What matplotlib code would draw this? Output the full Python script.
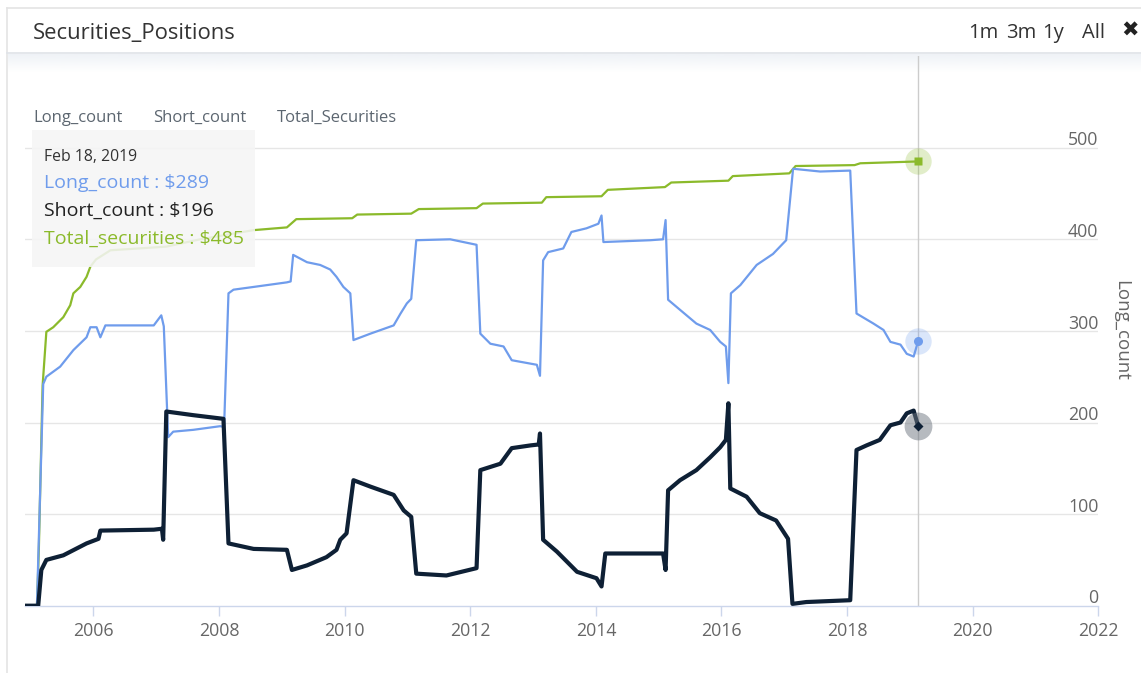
import matplotlib
matplotlib.use("Agg")
import matplotlib.pyplot as plt
import numpy as np
from matplotlib.patches import Rectangle
from matplotlib.lines import Line2D
from matplotlib.colors import to_rgb

plt.rcParams['font.family'] = ['Open Sans', 'DejaVu Sans']

# ---- data (decimal years) ----
total_dates = [2004.935, 2005.10, 2005.13, 2005.19, 2005.25, 2005.36, 2005.52, 2005.63,
               2005.68, 2005.79, 2005.89, 2005.95, 2006.04, 2006.27, 2007.16, 2007.70,
               2008.55, 2009.08, 2009.23, 2010.12, 2010.20, 2011.06, 2011.18, 2012.10,
               2012.20, 2013.14, 2013.21, 2014.09, 2014.19, 2015.10, 2015.20, 2016.11,
               2016.18, 2017.08, 2017.18, 2018.12, 2018.21, 2019.132]
total_values = [0, 0, 60, 240, 299, 304, 315, 328,
                341, 348, 359, 370, 378, 388, 392, 400,
                410, 413, 422, 423, 427, 428, 433, 434,
                439, 440, 446, 447, 454, 457, 462, 464,
                469, 472, 480, 481, 483, 485]

long_dates = [2004.935, 2005.10, 2005.20, 2005.25, 2005.47, 2005.68, 2005.89, 2005.95,
              2006.05, 2006.11, 2006.19, 2006.96, 2007.08, 2007.12, 2007.19, 2007.27,
              2007.59, 2008.02, 2008.08, 2008.15, 2008.23, 2008.55, 2009.08, 2009.14,
              2009.18, 2009.40, 2009.61, 2009.77, 2009.87, 2009.98, 2010.09, 2010.14,
              2010.41, 2010.78, 2010.89, 2010.99, 2011.06, 2011.14, 2011.68, 2012.10,
              2012.16, 2012.32, 2012.53, 2012.66, 2013.06, 2013.11, 2013.16, 2013.24,
              2013.48, 2013.61, 2013.85, 2014.04, 2014.09, 2014.12, 2014.87, 2015.07,
              2015.11, 2015.15, 2015.34, 2015.60, 2015.82, 2015.98, 2016.07, 2016.11,
              2016.15, 2016.30, 2016.56, 2016.82, 2017.03, 2017.14, 2017.57, 2018.05,
              2018.15, 2018.42, 2018.58, 2018.69, 2018.85, 2018.95, 2019.06, 2019.132]
long_values = [0, 0, 242, 250, 261, 279, 293, 304,
               304, 293, 306, 306, 317, 305, 184, 190,
               192, 196, 195, 341, 345, 348, 353, 354,
               383, 375, 372, 367, 359, 348, 341, 290,
               297, 306, 319, 330, 335, 399, 400, 394,
               297, 286, 283, 268, 263, 251, 377, 386,
               390, 408, 412, 417, 426, 397, 399, 400,
               421, 334, 323, 308, 301, 288, 283, 243,
               341, 350, 372, 384, 399, 477, 474, 475,
               319, 308, 301, 288, 285, 275, 272, 289]

short_dates = [2004.935, 2005.12, 2005.17, 2005.25, 2005.52, 2005.89, 2006.08, 2006.11,
               2006.96, 2007.09, 2007.11, 2007.16, 2007.59, 2008.07, 2008.15, 2008.55,
               2009.08, 2009.16, 2009.40, 2009.71, 2009.87, 2009.93, 2010.03, 2010.14,
               2010.41, 2010.78, 2010.94, 2011.06, 2011.14, 2011.62, 2012.10, 2012.16,
               2012.48, 2012.66, 2012.96, 2013.09, 2013.11, 2013.16, 2013.38, 2013.70,
               2014.01, 2014.09, 2014.15, 2015.07, 2015.11, 2015.15, 2015.34, 2015.60,
               2015.82, 2015.98, 2016.07, 2016.11, 2016.14, 2016.40, 2016.61, 2016.87,
               2017.06, 2017.13, 2017.35, 2018.05, 2018.15, 2018.31, 2018.52, 2018.69,
               2018.85, 2018.95, 2019.06, 2019.132]
short_values = [0, 0, 39, 50, 55, 68, 73, 82,
                83, 84, 72, 212, 208, 204, 68, 62,
                61, 39, 44, 53, 61, 72, 79, 137,
                130, 121, 104, 97, 35, 33, 41, 148,
                155, 172, 175, 176, 188, 72, 59, 37,
                30, 21, 57, 57, 39, 126, 137, 148,
                162, 173, 181, 221, 128, 119, 101, 93,
                73, 2, 4, 6, 170, 175, 181, 197,
                200, 210, 213, 196]

x_ticks = [2006, 2008, 2010, 2012, 2014, 2016, 2018, 2020, 2022]
y_ticks = [0, 100, 200, 300, 400, 500]
series_names = ["Long_count", "Short_count", "Total_Securities"]
tooltip_date = "Feb 18, 2019"
range_buttons = ["1m", "3m", "1y", "All"]

# ---- styling ----
C_LONG = "#6f9cec"
C_SHORT = "#0e2035"
C_TOTAL = "#8bba2b"
C_GRID = "#e6e6e6"
C_AXIS = "#ccd6eb"
C_LABEL = "#666666"

W, H = 1141, 673
fig = plt.figure(figsize=(W / 100, H / 100), dpi=100)
fig.patch.set_facecolor("white")


def fx(x):
    return x / W


def fy(y):
    return 1 - y / H


# faint shading just under the header bar, fading to white
shade = fig.add_axes([fx(8), fy(72), 1 - fx(8), (72 - 54) / H], zorder=-5)
rgba = np.zeros((40, 1, 4))
rgba[..., :3] = to_rgb("#e8edf3")
rgba[:, 0, 3] = np.linspace(0.7, 0.0, 40)
shade.imshow(rgba, aspect="auto", extent=[0, 1, 0, 1], origin="upper")
shade.set_axis_off()

# panel frame and header separator
fig.add_artist(Line2D([fx(7), 1], [fy(8), fy(8)], color="#e4e4e4", lw=1.2))
fig.add_artist(Line2D([fx(7), fx(7)], [fy(8), 0], color="#e4e4e4", lw=1.2))
fig.add_artist(Line2D([fx(7), 1], [fy(53), fy(53)], color="#dfe3e8", lw=1.2))

fig.text(fx(33), fy(34), "Securities_Positions", fontsize=15.8, color="#333333",
         ha="left", va="center")
for label, xl in zip(range_buttons, [968, 1006, 1042, 1082]):
    fig.text(fx(xl), fy(33), label, fontsize=14.5, color="#333333", ha="left", va="center")
fig.text(fx(1121), fy(31), "\u2716", fontsize=15, color="#222222", ha="left", va="center",
         family=["DejaVu Sans"])

# plot area
left, right, bottom, top = 25, 1098.3, 605.7, 56.1
ax = fig.add_axes([fx(left), fy(bottom), (right - left) / W, (bottom - top) / H])
ax.set_xlim(2004.91, 2022)
ax.set_ylim(0, 600)
ax.set_facecolor("none")
for s in ["top", "right", "left"]:
    ax.spines[s].set_visible(False)
ax.spines["bottom"].set_color(C_AXIS)
ax.spines["bottom"].set_linewidth(1)

ax.set_xticks(x_ticks)
ax.set_xticklabels([str(t) for t in x_ticks])
ax.tick_params(axis="x", length=7, width=1, color=C_AXIS, labelcolor=C_LABEL,
               labelsize=12.8, pad=5)
ax.set_yticks(y_ticks)
ax.tick_params(axis="y", left=False, labelleft=False)
for v in y_ticks[1:]:
    ax.axhline(v, color=C_GRID, lw=1, zorder=0)
for v in y_ticks:
    ax.annotate(str(v), xy=(1, v), xycoords=("axes fraction", "data"),
                xytext=(0, 1.6), textcoords="offset points", ha="right", va="baseline",
                fontsize=12.8, color=C_LABEL, annotation_clip=False)

fig.text(fx(1121), fy(330), "Long_count", rotation=-90, fontsize=13.5, color=C_LABEL,
         ha="center", va="center")

# crosshair at the hovered date
ax.axvline(total_dates[-1], color="#cccccc", lw=1, zorder=1)

ax.plot(total_dates, total_values, color=C_TOTAL, lw=1.6, zorder=3, solid_joinstyle="round")
ax.plot(long_dates, long_values, color=C_LONG, lw=1.6, zorder=3, solid_joinstyle="round")
ax.plot(short_dates, short_values, color=C_SHORT, lw=3.0, zorder=4, solid_joinstyle="round")

# hover markers with halos
ax.plot(total_dates[-1], total_values[-1], "o", ms=19, color=C_TOTAL, alpha=0.25,
        mec="none", zorder=5, clip_on=False)
ax.plot(total_dates[-1], total_values[-1], "s", ms=6, color=C_TOTAL, mec="none", zorder=6)
ax.plot(long_dates[-1], long_values[-1], "o", ms=19, color=C_LONG, alpha=0.25,
        mec="none", zorder=5)
ax.plot(long_dates[-1], long_values[-1], "o", ms=6.5, color=C_LONG, mec="none", zorder=6)
ax.plot(short_dates[-1], short_values[-1], "o", ms=20, color="#6e7680", alpha=0.5,
        mec="none", zorder=5)
ax.plot(short_dates[-1], short_values[-1], "D", ms=5, color=C_SHORT, mec="none", zorder=6)

# series labels
for name, xl in zip(series_names, [33, 153, 277]):
    fig.text(fx(xl), fy(118), name, fontsize=12, color="#5c6670", ha="left", va="center")

# tooltip
fig.add_artist(Rectangle((fx(32), fy(267)), fx(255 - 32), (267 - 130) / H,
                         facecolor="#f5f5f5", edgecolor="none", alpha=0.88, zorder=10))
fig.text(fx(44), fy(157), tooltip_date, fontsize=11.3, color="#333333", ha="left",
         va="center", zorder=11)
tip_rows = [
    (f"Long_count : ${long_values[-1]}", C_LONG, 183),
    (f"Short_count : ${short_values[-1]}", "#222222", 211),
    (f"Total_securities : ${total_values[-1]}", C_TOTAL, 239),
]
for txt, col, yy in tip_rows:
    fig.text(fx(44), fy(yy), txt, fontsize=14, color=col, ha="left", va="center", zorder=11)

fig.savefig("out.png", dpi=100, facecolor="white")
